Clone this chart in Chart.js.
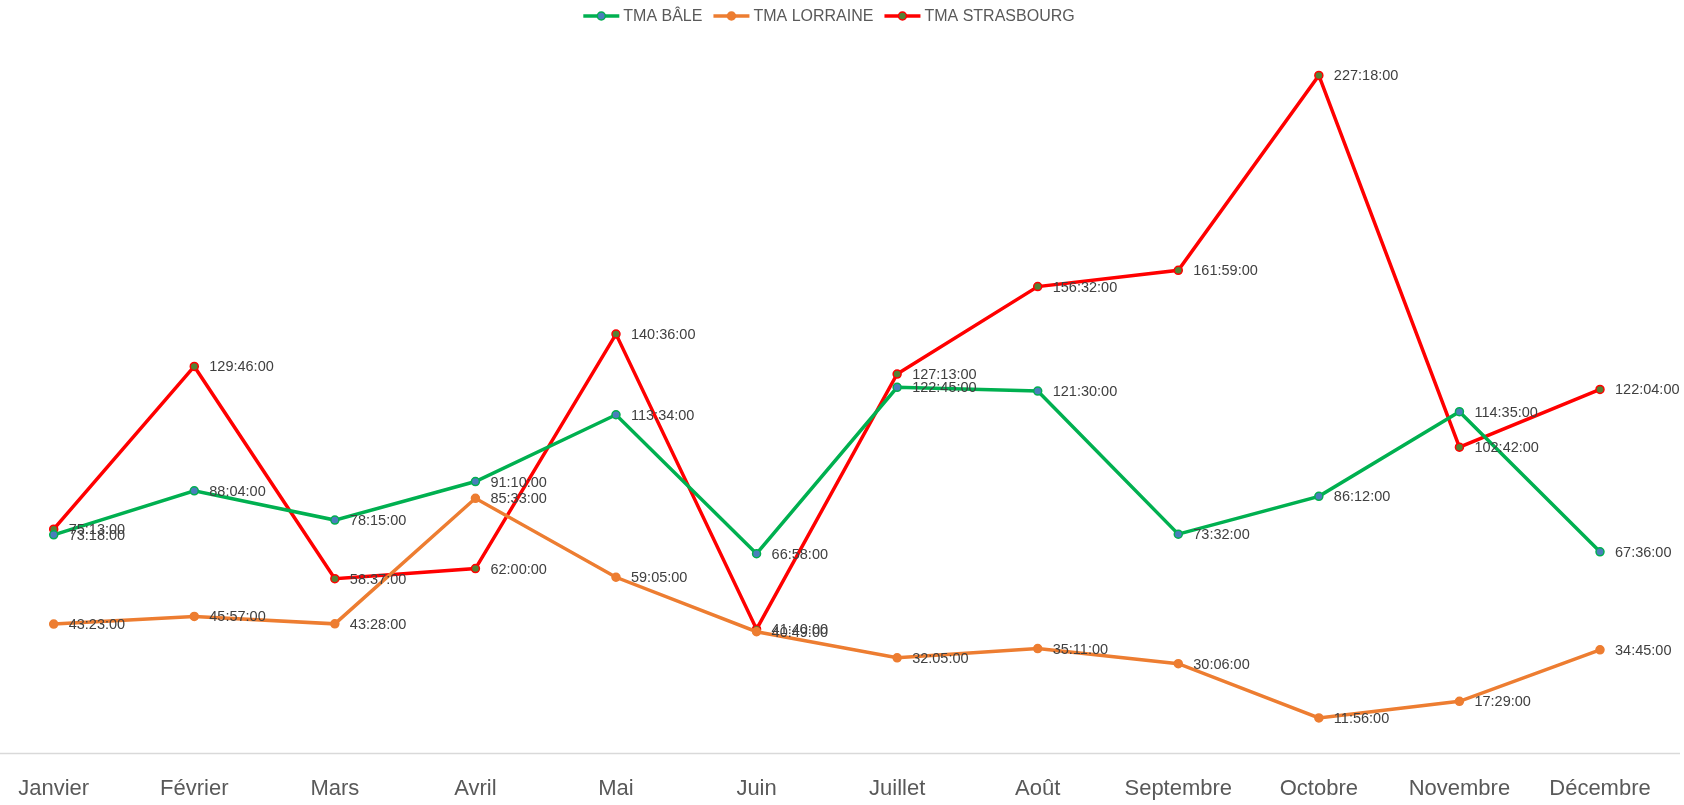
<!DOCTYPE html>
<html>
<head>
<meta charset="utf-8">
<script src="https://cdn.jsdelivr.net/npm/chart.js@4"></script>
<style>
  html, body { margin: 0; padding: 0; background: #fff; }
</style>
</head>
<body>
<canvas id="tma" width="1684" height="805"></canvas>
<script>
const mois = ['Janvier', 'Février', 'Mars', 'Avril', 'Mai', 'Juin', 'Juillet', 'Août', 'Septembre', 'Octobre', 'Novembre', 'Décembre'];

// durées en heures:minutes
const tmaBale = ['73:18', '88:04', '78:15', '91:10', '113:34', '66:58', '122:45', '121:30', '73:32', '86:12', '114:35', '67:36'];
const tmaLorraine = ['43:23', '45:57', '43:28', '85:33', '59:05', '40:49', '32:05', '35:11', '30:06', '11:56', '17:29', '34:45'];
const tmaStrasbourg = ['75:13', '129:46', '58:37', '62:00', '140:36', '41:40', '127:13', '156:32', '161:59', '227:18', '102:42', '122:04'];

const axeMax = 240;
const police = '"Liberation Sans", Arial, sans-serif';

function enHeures(s) {
    let p = s.split(':');
    return Number(p[0]) + Number(p[1]) / 60;
}

function serie(label, valeurs, couleur, fondPoint) {
    return {
        label: label,
        data: valeurs.map(enHeures),
        texte: valeurs.map(v => v + ':00'),
        borderColor: couleur,
        backgroundColor: couleur,
        borderWidth: 3.5,
        pointRadius: 4,
        pointBorderWidth: 1.5,
        pointBackgroundColor: fondPoint,
        pointBorderColor: couleur,
        tension: 0
    };
}

// étiquettes de valeur à droite des points
const etiquettes = {
    id: 'etiquettes',
    afterDatasetsDraw(chart) {
        let c = chart.ctx;
        c.save();
        c.font = '14.5px ' + police;
        c.fillStyle = '#404040';
        c.textAlign = 'left';
        c.textBaseline = 'middle';
        chart.data.datasets.forEach((ds, i) => {
            chart.getDatasetMeta(i).data.forEach((pt, j) => {
                c.fillText(ds.texte[j], pt.x + 15, pt.y + 1);
            });
        });
        c.restore();
    }
};

// ligne de l'axe horizontal sur toute la largeur
const axe = {
    id: 'axe',
    beforeDatasetsDraw(chart) {
        let c = chart.ctx;
        let y = chart.chartArea.bottom;
        c.save();
        c.strokeStyle = '#d9d9d9';
        c.lineWidth = 1.5;
        c.beginPath();
        c.moveTo(0, y);
        c.lineTo(1680, y);
        c.stroke();
        c.restore();
    }
};

// légende : trait + pastille + texte
const legende = {
    id: 'legende',
    afterDraw(chart) {
        let c = chart.ctx;
        let ds = chart.data.datasets;
        c.save();
        c.font = '16px ' + police;
        let trait = 36, ecart = 4, entre = 11;
        let total = 0;
        ds.forEach((d, i) => {
            total += trait + ecart + c.measureText(d.label).width + (i < ds.length - 1 ? entre : 0);
        });
        let x = 829 - total / 2;
        let y = 16;
        ds.forEach(d => {
            c.strokeStyle = d.borderColor;
            c.lineWidth = 3.5;
            c.beginPath();
            c.moveTo(x, y);
            c.lineTo(x + trait, y);
            c.stroke();
            c.beginPath();
            c.arc(x + trait / 2, y, 4, 0, Math.PI * 2);
            c.fillStyle = d.pointBackgroundColor;
            c.fill();
            c.lineWidth = 1.5;
            c.stroke();
            x += trait + ecart;
            c.fillStyle = '#595959';
            c.textAlign = 'left';
            c.textBaseline = 'middle';
            c.fillText(d.label, x, y + 1);
            x += c.measureText(d.label).width + entre;
        });
        c.restore();
    }
};

new Chart(document.getElementById('tma'), {
    type: 'line',
    data: {
        labels: mois,
        datasets: [
            serie('TMA BÂLE', tmaBale, '#00b050', '#4a7ebb'),
            serie('TMA LORRAINE', tmaLorraine, '#ed7d31', '#ed7d31'),
            serie('TMA STRASBOURG', tmaStrasbourg, '#ff0000', '#548235')
        ]
    },
    options: {
        responsive: false,
        animation: false,
        layout: {
            padding: { left: 53.7, right: 84, top: 37.6, bottom: 0 }
        },
        scales: {
            x: {
                offset: false,
                grid: { display: false, drawTicks: false },
                border: { display: false },
                ticks: {
                    padding: 22,
                    maxRotation: 0,
                    autoSkip: false,
                    color: '#595959',
                    font: { family: police, size: 22 }
                },
                afterFit(scale) {
                    scale.height = 51.5;
                    scale.paddingLeft = 0;
                    scale.paddingRight = 0;
                }
            },
            y: {
                display: false,
                min: 0,
                max: axeMax
            }
        },
        plugins: {
            legend: { display: false },
            tooltip: { enabled: false }
        }
    },
    plugins: [etiquettes, axe, legende]
});
</script>
</body>
</html>
